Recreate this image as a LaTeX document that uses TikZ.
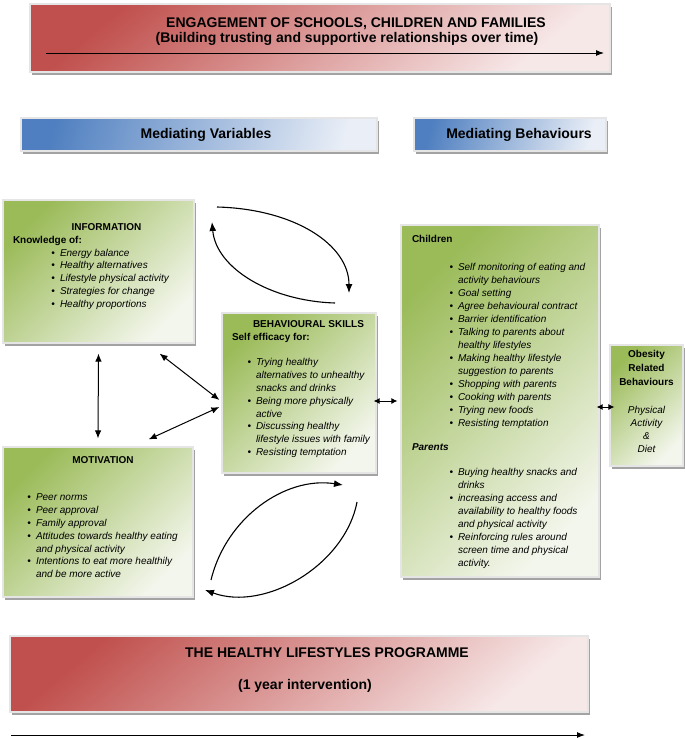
\documentclass[tikz,border=0pt]{standalone}
\usepackage{fontspec}
\setmainfont{Liberation Sans}
\usepackage{enumitem}
\usetikzlibrary{arrows.meta,positioning,calc,shadows}
\definecolor{hlsred}{HTML}{C0504D}
\definecolor{hlsredlt}{HTML}{F7E8E8}
\definecolor{hlsgreen}{HTML}{9BBB59}
\definecolor{hlsgreenlt}{HTML}{F3F6EC}
\definecolor{hlsblue}{HTML}{4F7FC0}
\definecolor{hlsbluelt}{HTML}{EAEFF7}
\setlist[itemize]{nosep, label=\textbullet, labelsep=5pt, rightmargin=0pt}
\tikzset{
  boxbase/.style={draw=black!10, line width=1.2pt, inner sep=0pt, align=left, drop shadow={shadow xshift=1.5pt, shadow yshift=-2.5pt, fill=black!60, opacity=0.6}},
  redbox/.style={boxbase, top color=hlsred, bottom color=hlsredlt, shading angle=40},
  bluebox/.style={boxbase, top color=hlsblue, bottom color=hlsbluelt, shading angle=75, font=\fontsize{14}{16}\selectfont\bfseries},
  greenbox/.style={boxbase, top color=hlsgreen, bottom color=hlsgreenlt, shading angle=45},
  timeline/.style={-{Latex[length=8pt,width=6pt]}, line width=1pt},
  linkarrow/.style={{Latex[length=8pt,width=6.5pt]}-{Latex[length=8pt,width=6.5pt]}, line width=1pt},
  shortlink/.style={{Latex[length=6pt,width=6pt]}-{Latex[length=6pt,width=6pt]}, line width=1pt},
  looparrow/.style={-{Latex[length=9pt,width=7pt]}, line width=1.1pt}
}
\begin{document}
\begin{tikzpicture}[x=1pt, y=-1pt, font=\fontsize{10}{12.8}\selectfont]
  \useasboundingbox (0,0) rectangle (685,739);
  % top and bottom bands
  \node[redbox] (engage) at (320,38) {\begin{minipage}[c][68pt][t]{580pt}\centering\fontsize{14}{15}\selectfont\bfseries
    \vspace*{12.5pt}\hspace*{72pt}ENGAGEMENT OF SCHOOLS, CHILDREN AND FAMILIES\strut\\
    \hspace*{54pt}(Building trusting and supportive relationships over time)\end{minipage}};
  \node[redbox] (prog) at (299,674) {\begin{minipage}[c][76pt][t]{578pt}\centering\fontsize{14}{16}\selectfont\bfseries
    \vspace*{9.8pt}\hspace*{56pt}THE HEALTHY LIFESTYLES PROGRAMME\strut\\[16pt]
    \hspace*{12pt}(1 year intervention)\end{minipage}};
  % column headings
  \node[bluebox, minimum width=356pt, minimum height=33pt] (medvar) at (199,134.5) {\hspace*{14pt}Mediating Variables};
  \node[bluebox, minimum width=192pt, minimum height=33pt] (medbeh) at (510,134.5) {\hspace*{18pt}Mediating Behaviours};
  % mediating variables
  \node[greenbox] (info) at (98.5,271.5) {\begin{minipage}[c][143pt][t]{191pt}
    \vspace*{21.5pt}\centering\hspace*{16pt}\textbf{INFORMATION}\strut\par
    \raggedright\hspace*{10pt}\textbf{Knowledge of:}
    \begin{itemize}[leftmargin=57pt]\itshape
      \item Energy balance
      \item Healthy alternatives
      \item Lifestyle physical activity
      \item Strategies for change
      \item Healthy proportions
    \end{itemize}\end{minipage}};
  \node[greenbox] (skills) at (299,393) {\begin{minipage}[c][160pt][t]{154pt}\raggedright
    \vspace*{5.6pt}\hspace*{31pt}\textbf{BEHAVIOURAL SKILLS}\strut\par
    \hspace*{10pt}\textbf{Self efficacy for:}\par\vspace{12.8pt}
    \begin{itemize}[leftmargin=34pt]\itshape
      \item Trying healthy\\ alternatives to unhealthy\\ snacks and drinks
      \item Being more physically\\ active
      \item Discussing healthy\\ lifestyle issues with family
      \item Resisting temptation
    \end{itemize}\end{minipage}};
  \node[greenbox] (motiv) at (98,522) {\begin{minipage}[c][150pt][t]{190pt}
    \vspace*{7.6pt}\centering\hspace*{10pt}\textbf{MOTIVATION}\strut\par
    \raggedright\vspace{24.6pt}
    \begin{itemize}[leftmargin=33pt]\itshape
      \item Peer norms
      \item Peer approval
      \item Family approval
      \item Attitudes towards healthy eating\\ and physical activity
      \item Intentions to eat more healthily\\ and be more active
    \end{itemize}\end{minipage}};
  % mediating behaviours
  \node[greenbox] (children) at (500,401) {\begin{minipage}[c][352pt][t]{198pt}\raggedright\fontsize{10}{13}\selectfont
    \vspace*{7.9pt}\hspace*{11pt}\textbf{Children}\strut\par\vspace{15pt}
    \begin{itemize}[leftmargin=57pt]\itshape
      \item Self monitoring of eating and\\ activity behaviours
      \item Goal setting
      \item Agree behavioural contract
      \item Barrier identification
      \item Talking to parents about\\ healthy lifestyles
      \item Making healthy lifestyle\\ suggestion to parents
      \item Shopping with parents
      \item Cooking with parents
      \item Trying new foods
      \item Resisting temptation
    \end{itemize}\par\vspace{11pt}
    \hspace*{11pt}\textbf{\textit{Parents}}\par\vspace{12pt}
    \begin{itemize}[leftmargin=57pt]\itshape
      \item Buying healthy snacks and\\ drinks
      \item increasing access and\\ availability to healthy foods\\ and physical activity
      \item Reinforcing rules around\\ screen time and physical\\ activity.
    \end{itemize}\end{minipage}};
  \node[greenbox] (obesity) at (646.5,405.5) {\begin{minipage}[c][121pt][t]{73pt}\centering\fontsize{10}{14}\selectfont
    \vspace*{4.8pt}\textbf{Obesity\\ Related\\ Behaviours}\par
    \fontsize{10}{13}\selectfont\vspace{15.4pt}\itshape Physical\\ Activity\\ \&\\ Diet\end{minipage}};
  % timelines
  \coordinate (engstart) at (46,53);
  \coordinate (engend) at (604,53);
  \coordinate (progstart) at (11,735);
  \coordinate (progend) at (585,735);
  \draw[timeline] (engstart) -- (engend);
  \draw[timeline] (progstart) -- (progend);
  % links between boxes
  \draw[linkarrow] ([yshift=-10pt]info.south) -- ([yshift=8pt]motiv.north);
  \draw[linkarrow] ([xshift=-35pt,yshift=-10pt]info.south east) -- ([xshift=-2pt,yshift=-7pt]skills.west);
  \draw[linkarrow] ([xshift=-45pt,yshift=7pt]motiv.north east) -- ([xshift=-2pt,yshift=-14pt]skills.west);
  \draw[shortlink] ([xshift=-3pt]skills.east |- children.west) -- ([xshift=-3pt]children.west);
  \draw[shortlink] ([xshift=-3pt,yshift=-1.5pt]children.east |- obesity.west) -- ([xshift=5pt,yshift=-1.5pt]obesity.west);
  % feedback loops
  \coordinate (toploopa) at (217,207);
  \coordinate (toploopb) at (349,293);
  \coordinate (toploopc) at (335,303);
  \coordinate (toploopd) at (212,222);
  \draw[looparrow] (toploopa) .. controls (295,209) and (349,245) .. (toploopb);
  \draw[looparrow] (toploopc) .. controls (270,301) and (216,268) .. (toploopd);
  \coordinate (botloopa) at (211,580);
  \coordinate (botloopb) at (343,485);
  \coordinate (botloopc) at (357,502);
  \coordinate (botloopd) at (205,590);
  \draw[looparrow] (botloopa) .. controls (226,518) and (285,476) .. (botloopb);
  \draw[looparrow] (botloopc) .. controls (345,565) and (265,612) .. (botloopd);
\end{tikzpicture}
\end{document}
